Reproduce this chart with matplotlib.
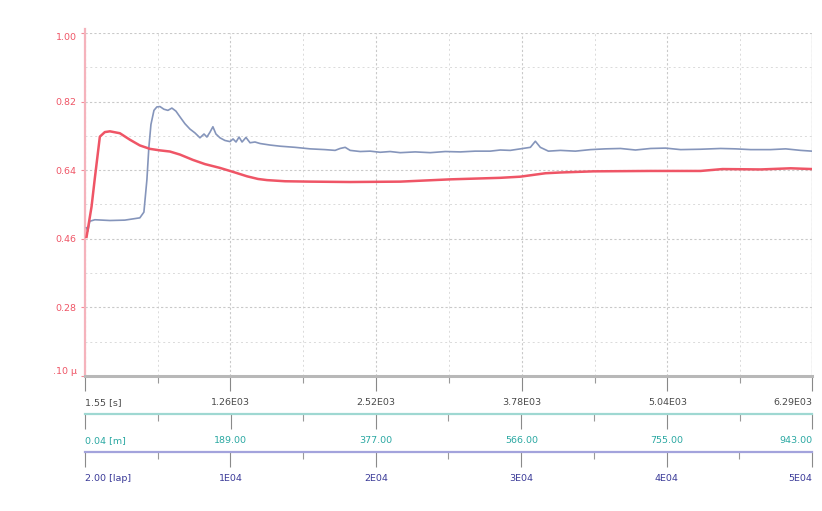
import matplotlib
matplotlib.use("Agg")
import matplotlib.pyplot as plt
import numpy as np
from matplotlib.ticker import FixedLocator

# Time axis (s) and friction-like signals
t_red = [15, 58, 87, 130, 173, 217, 303, 390, 476, 563, 650, 736, 823, 935,
         1039, 1169, 1299, 1403, 1498, 1576, 1732, 1949, 2295, 2728, 3161,
         3594, 3767, 3984, 4114, 4399, 4893, 5326, 5516, 5846, 6106, 6290]
mu_red = [0.465, 0.544, 0.620, 0.728, 0.740, 0.742, 0.737, 0.720, 0.705, 0.696,
          0.692, 0.689, 0.681, 0.667, 0.656, 0.646, 0.634, 0.624, 0.617, 0.614,
          0.611, 0.610, 0.609, 0.610, 0.616, 0.620, 0.623, 0.632, 0.634, 0.637,
          0.638, 0.638, 0.643, 0.642, 0.645, 0.643]

t_blue = [15, 26, 43, 87, 217, 346, 476, 511, 537, 554, 572, 598, 623, 650, 684,
          719, 753, 788, 823, 866, 909, 952, 996, 1031, 1056, 1083, 1108, 1134,
          1169, 1212, 1256, 1282, 1308, 1334, 1360, 1394, 1429, 1472, 1516, 1602,
          1689, 1819, 1949, 2078, 2165, 2208, 2252, 2295, 2382, 2468, 2555, 2641,
          2728, 2858, 2988, 3118, 3248, 3377, 3507, 3594, 3680, 3767, 3854, 3897,
          3940, 4010, 4114, 4243, 4373, 4503, 4633, 4763, 4893, 5023, 5153, 5326,
          5499, 5629, 5759, 5932, 6062, 6192, 6290]
mu_blue = [0.489, 0.480, 0.506, 0.510, 0.508, 0.509, 0.515, 0.530, 0.615, 0.700,
           0.760, 0.797, 0.806, 0.807, 0.800, 0.797, 0.803, 0.795, 0.780, 0.762,
           0.748, 0.738, 0.725, 0.735, 0.727, 0.740, 0.754, 0.735, 0.725, 0.718,
           0.715, 0.722, 0.714, 0.727, 0.714, 0.726, 0.712, 0.714, 0.710, 0.706,
           0.703, 0.700, 0.696, 0.694, 0.692, 0.697, 0.700, 0.692, 0.689, 0.690,
           0.687, 0.689, 0.686, 0.688, 0.686, 0.689, 0.688, 0.690, 0.690, 0.693,
           0.692, 0.696, 0.700, 0.716, 0.700, 0.690, 0.692, 0.690, 0.694, 0.696,
           0.697, 0.693, 0.697, 0.698, 0.694, 0.695, 0.697, 0.696, 0.694, 0.694,
           0.696, 0.692, 0.690]

y_ticks = [1.00, 0.82, 0.64, 0.46, 0.28, 0.10]
y_labels = ["1.00", "0.82", "0.64", "0.46", "0.28", ".10 µ"]

t_ticks = [1.55, 1260, 2520, 3780, 5040, 6290]
t_labels = ["1.55 [s]", "1.26E03", "2.52E03", "3.78E03", "5.04E03", "6.29E03"]
m_ticks = [0.04, 189.0, 377.0, 566.0, 755.0, 943.0]
m_labels = ["0.04 [m]", "189.00", "377.00", "566.00", "755.00", "943.00"]
lap_ticks = [2.0, 1e4, 2e4, 3e4, 4e4, 5e4]
lap_labels = ["2.00 [lap]", "1E04", "2E04", "3E04", "4E04", "5E04"]

W, H = 822, 511
fig = plt.figure(figsize=(W / 100, H / 100), dpi=100)
x0, x1, ytop, ybot = 85, 812, 33, 376
ax = fig.add_axes([x0 / W, 1 - ybot / H, (x1 - x0) / W, (ybot - ytop) / H])

tmin, tmax = t_ticks[0], t_ticks[-1]
ax.set_xlim(tmin, tmax)
ax.set_ylim(0.10, 1.00)

RED = "#ef5566"
BLUE = "#8595bb"
ax.plot(t_blue, mu_blue, color=BLUE, lw=1.2, zorder=3)
ax.plot(t_red, mu_red, color=RED, lw=1.8, zorder=4)

# grid: dotted major + minor lines
ax.set_yticks(y_ticks)
ax.yaxis.set_minor_locator(FixedLocator([0.19, 0.37, 0.55, 0.73, 0.91]))
minor_t = [630, 1890, 3150, 4410, 5670]
ax.grid(True, which="major", color="#c9c9c9", lw=0.8, ls=(0, (2, 2)))
ax.grid(True, which="minor", color="#dadada", lw=0.7, ls=(0, (2, 3)))

# spines
for s in ["top", "right"]:
    ax.spines[s].set_visible(False)
ax.spines["left"].set_color("#f5b3bc")
ax.spines["left"].set_linewidth(1.6)
ax.spines["left"].set_bounds(0.10, 1.01)
ax.spines["bottom"].set_color("#b8b8b8")
ax.spines["bottom"].set_linewidth(2.2)
ax.axvline(tmax, color="#d6d6d6", lw=1.0, zorder=1)

# y tick labels
ax.set_yticklabels(y_labels)
ax.tick_params(axis="y", which="major", colors="#f08a98", labelcolor=RED,
               labelsize=6.8, length=3, width=0.8, pad=3)
ax.tick_params(axis="y", which="minor", length=0)
ylabs = ax.get_yticklabels()
ylabs[0].set_verticalalignment("top")
ylabs[-1].set_verticalalignment("bottom")


def place_xlabels(axis_obj, ticks, labels, color, tickcolor):
    axis_obj.set_xticks(ticks)
    axis_obj.set_xticklabels(labels)
    axis_obj.tick_params(axis="x", which="major", colors=tickcolor, labelcolor=color,
                         labelsize=6.8, length=11, width=0.8, pad=5, direction="out")
    labs = axis_obj.get_xticklabels()
    labs[0].set_horizontalalignment("left")
    labs[-1].set_horizontalalignment("right")


# primary time axis
ax.xaxis.set_minor_locator(FixedLocator(minor_t))
ax.tick_params(axis="x", which="minor", length=5, color="#999999", width=0.8)
place_xlabels(ax, t_ticks, t_labels, "#4a4a4a", "#888888")
ax.grid(True, which="minor", axis="x", color="#dadada", lw=0.7, ls=(0, (2, 3)))


def linmap(a0, a1, b0, b1):
    f = lambda v: b0 + (np.asarray(v) - a0) * (b1 - b0) / (a1 - a0)
    g = lambda v: a0 + (np.asarray(v) - b0) * (a1 - a0) / (b1 - b0)
    return f, g


h = ybot - ytop
for ticks, labels, lc, spc, ypix in [
    (m_ticks, m_labels, "#2aa8a2", "#9fd8d2", 414),
    (lap_ticks, lap_labels, "#3a3a98", "#a3a3dc", 452),
]:
    f, g = linmap(tmin, tmax, ticks[0], ticks[-1])
    sec = ax.secondary_xaxis((ybot - ypix) / h, functions=(f, g))
    sec.spines["bottom"].set_color(spc)
    sec.spines["bottom"].set_linewidth(1.6)
    place_xlabels(sec, ticks, labels, lc, "#8a8a8a")
    mids = [(ticks[i] + ticks[i + 1]) / 2 for i in range(len(ticks) - 1)]
    sec.xaxis.set_minor_locator(FixedLocator(mids))
    sec.tick_params(axis="x", which="minor", length=5, color="#999999", width=0.8)

fig.savefig("out.png", dpi=100, facecolor="white")
